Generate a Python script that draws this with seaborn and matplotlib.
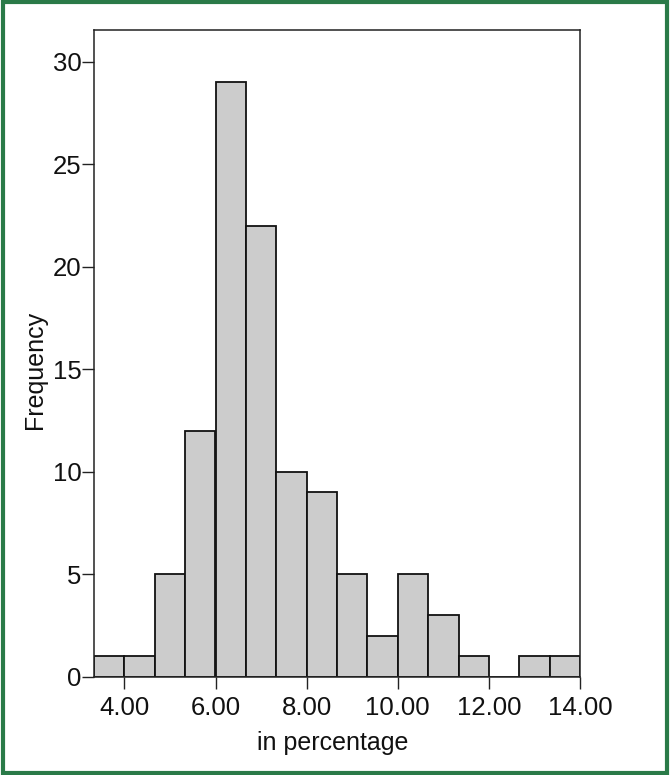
import matplotlib
matplotlib.use("Agg")
import matplotlib.pyplot as plt
import seaborn as sns
import numpy as np
from matplotlib.patches import Rectangle

sns.set_style("white")
plt.rcParams['font.family'] = ['Liberation Sans', 'DejaVu Sans']

# Data
bin_edges = [10/3, 4.0, 14/3, 16/3, 6.0, 20/3, 22/3, 8.0, 26/3, 28/3, 10.0, 32/3, 34/3, 12.0, 38/3, 40/3, 14.0]
counts = [1, 1, 5, 12, 29, 22, 10, 9, 5, 2, 5, 3, 1, 0, 1, 1]
x_ticks = [4, 6, 8, 10, 12, 14]
x_tick_labels = ["4.00", "6.00", "8.00", "10.00", "12.00", "14.00"]
y_ticks = [0, 5, 10, 15, 20, 25, 30]

centers = [(a + b) / 2 for a, b in zip(bin_edges[:-1], bin_edges[1:])]

fig = plt.figure(figsize=(6.7, 7.75), dpi=100)
ax = fig.add_axes([94/670, 1 - 677/775, (580-94)/670, (677-30)/775])

sns.histplot(x=centers, weights=counts, bins=bin_edges, ax=ax,
             color="#cccccc", alpha=1.0, edgecolor="#111111", linewidth=1.3)

ax.set_xlim(bin_edges[0], 14.0)
ax.set_ylim(0, 31.55)
ax.set_xticks(x_ticks)
ax.set_xticklabels(x_tick_labels)
ax.set_yticks(y_ticks)
ax.tick_params(axis='both', direction='out', length=8.6, width=1.0, color='#222222',
               labelsize=18.5, labelcolor='#111111', bottom=True, left=True)
ax.tick_params(axis='x', pad=5)
ax.tick_params(axis='y', pad=0.5)
for s in ax.spines.values():
    s.set_visible(True)
    s.set_color('#222222')
    s.set_linewidth(1.1)

ax.set_xlabel("in percentage", fontsize=18, color='#111111')
ax.set_ylabel("Frequency", fontsize=18, color='#111111')
ax.xaxis.set_label_coords(0.492, -0.083)
ax.yaxis.set_label_coords(-0.097, 0.475)

# green frame
fig.patches.append(Rectangle((0.004, 0.003), 0.992, 0.994, transform=fig.transFigure,
                             fill=False, edgecolor='#2a7a48', linewidth=3.0))

fig.savefig("out.png", dpi=100)
